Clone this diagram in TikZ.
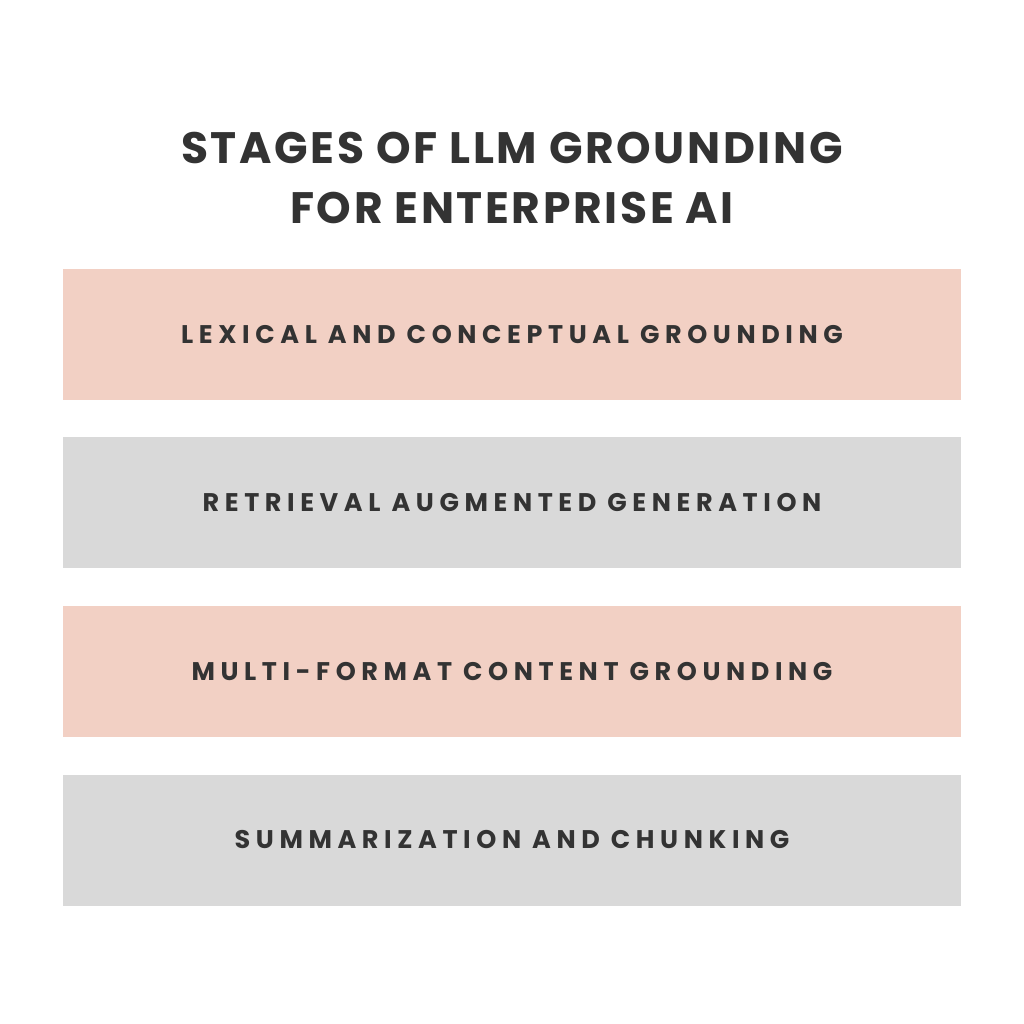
\documentclass[tikz,border=0pt]{standalone}
\usepackage{fontspec}
\setmainfont{Poppins}
\newfontfamily\titlefont[LetterSpace=6]{Poppins}
\newfontfamily\boxfont[LetterSpace=22]{Poppins}
\definecolor{pinkbox}{HTML}{F2D0C4}
\definecolor{graybox}{HTML}{D9D9D9}
\definecolor{ink}{HTML}{333333}
\begin{document}
\begin{tikzpicture}[x=1pt,y=-1pt,
  stage/.style={minimum width=898pt,minimum height=131pt,inner sep=0pt,text=ink,font=\boxfont\fontsize{25.5}{30}\selectfont\bfseries},
  ttl/.style={text=ink,font=\titlefont\fontsize{44}{60}\selectfont\bfseries,align=center}]
\fill[white] (0,0) rectangle (1024,1024);
\useasboundingbox (0,0) rectangle (1024,1024);
\node[ttl] (t) at (512,178) {STAGES OF LLM GROUNDING\\FOR ENTERPRISE AI};
\node[stage,fill=pinkbox] (s1) at (512,334.5) {LEXICAL AND CONCEPTUAL GROUNDING};
\node[stage,fill=graybox] (s2) at (512,502.5) {RETRIEVAL AUGMENTED GENERATION};
\node[stage,fill=pinkbox] (s3) at (512,671.5) {MULTI-FORMAT CONTENT GROUNDING};
\node[stage,fill=graybox] (s4) at (512,840) {SUMMARIZATION AND CHUNKING};
\end{tikzpicture}
\end{document}
